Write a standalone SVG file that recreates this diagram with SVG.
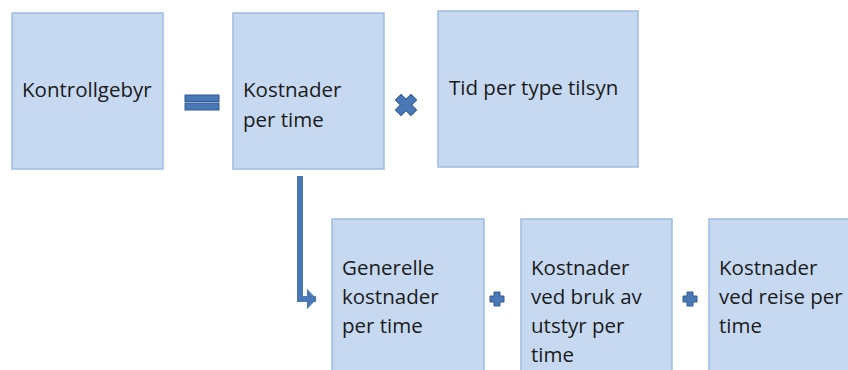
<svg xmlns="http://www.w3.org/2000/svg" width="848" height="370" viewBox="0 0 848 370">
<style>
.box{fill:#c6d9f1;stroke:#9dbbe0;stroke-width:1.5}
.t{font-family:"Open Sans","Liberation Sans",sans-serif;font-size:20.5px;fill:#1a1a1a}
.op{fill:#4a78b4;stroke:#2f5b93;stroke-width:1}
.conn{fill:none;stroke:#4a78b4;stroke-width:6}
</style>
<defs>
<marker id="ah" markerWidth="4" markerHeight="4" refX="1.5" refY="2" orient="auto" markerUnits="strokeWidth">
<path d="M0,0.3 L1.6,2 L0,3.7 Z" fill="#4a78b4"/>
</marker>
</defs>
<g id="n1"><rect class="box" x="12" y="13" width="151" height="156"/><text class="t" x="22" y="97">Kontrollgebyr</text></g>
<g id="n2"><rect class="box" x="233" y="13" width="151" height="156"/><text class="t" x="243" y="97">Kostnader</text><text class="t" x="243" y="127">per time</text></g>
<g id="n3"><rect class="box" x="438" y="11" width="200" height="156"/><text class="t" x="449" y="95">Tid per type tilsyn</text></g>
<g id="n4"><rect class="box" x="332" y="219" width="152" height="160"/><text class="t" x="342" y="275">Generelle</text><text class="t" x="342" y="304">kostnader</text><text class="t" x="342" y="333">per time</text></g>
<g id="n5"><rect class="box" x="521" y="219" width="151" height="160"/><text class="t" x="531" y="275">Kostnader</text><text class="t" x="531" y="304">ved bruk av</text><text class="t" x="531" y="333">utstyr per</text><text class="t" x="531" y="362">time</text></g>
<g id="n6"><rect class="box" x="709" y="219" width="150" height="160"/><text class="t" x="719" y="275">Kostnader</text><text class="t" x="719" y="304">ved reise per</text><text class="t" x="719" y="333">time</text></g>
<g id="ops">
<rect class="op" x="185" y="95" width="34" height="6.5"/>
<rect class="op" x="185" y="103" width="34" height="7"/>
<path class="op" transform="translate(406,105) rotate(45)" d="M-4,-11 H4 V-4 H11 V4 H4 V11 H-4 V4 H-11 V-4 H-4 Z"/>
<path class="op" transform="translate(497,299)" d="M-3,-7 H3 V-3 H7 V3 H3 V7 H-3 V3 H-7 V-3 H-3 Z"/>
<path class="op" transform="translate(690,299)" d="M-3,-7 H3 V-3 H7 V3 H3 V7 H-3 V3 H-7 V-3 H-3 Z"/>
</g>
<g id="connectors">
<path class="conn" d="M300,176 V299 H316" marker-end="url(#ah)"/>
</g>
</svg>
